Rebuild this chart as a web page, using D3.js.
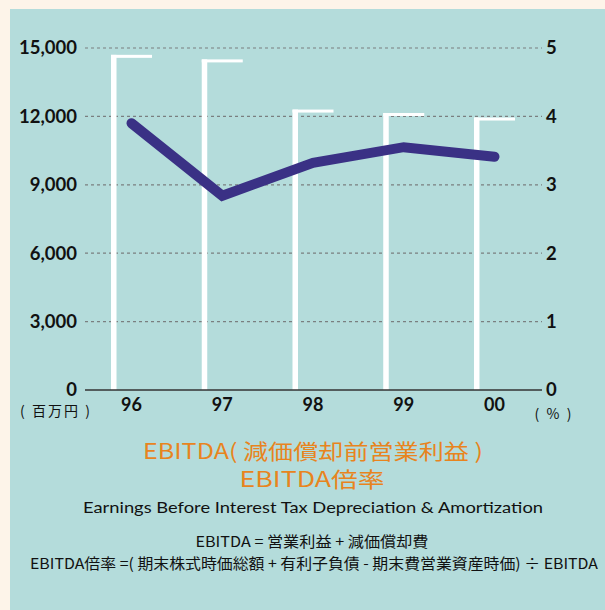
<!DOCTYPE html>
<html>
<head>
<meta charset="utf-8">
<script src="https://cdn.jsdelivr.net/npm/d3@7"></script>
<style>
  html, body { margin: 0; padding: 0; background: #fdf4e9; }
  svg { display: block; }
</style>
</head>
<body>
<svg id="chart" width="605" height="610"></svg>
<script>
// ---- data ----
const years = ["96", "97", "98", "99", "00"];
const ebitda = [14700, 14500, 12300, 12150, 11950];      // 百万円 (bars, left axis)
const ebitdaMultiple = [3.90, 2.84, 3.32, 3.55, 3.41];   // 倍率 (line, right axis)
const leftTicks = [0, 3000, 6000, 9000, 12000, 15000];
const rightTicks = [0, 1, 2, 3, 4, 5];
const leftUnit = "( 百万円 )";
const rightUnit = "( % )";
const titleLines = ["EBITDA( 減価償却前営業利益 )", "EBITDA倍率"];
const subtitle = "Earnings Before Interest Tax Depreciation & Amortization";
const formulas = ["EBITDA = 営業利益 + 減価償却費",
  "EBITDA倍率 =( 期末株式時価総額 + 有利子負債 - 期末費営業資産時価) ÷ EBITDA"];

// ---- setup ----
const svg = d3.select("#chart");
const W = 605, H = 610;
const numFont = "'Lato', 'DejaVu Sans', sans-serif";
const cjkFont = "'Noto Sans CJK JP', 'Noto Sans', sans-serif";

svg.append("rect").attr("width", W).attr("height", H).attr("fill", "#fdf4e9");
svg.append("rect").attr("x", 10).attr("y", 9).attr("width", W - 10).attr("height", H - 9)
  .attr("fill", "#b4dcdb");

const x = d3.scaleBand().domain(years).range([85, 541])
  .paddingInner(0.548).paddingOuter(0.2865);
const yL = d3.scaleLinear().domain([0, 15000]).range([390, 48]);
const yR = d3.scaleLinear().domain([0, 5]).range([390, 48]);

// gridlines
svg.append("g").selectAll("line").data(leftTicks.filter(d => d > 0)).join("line")
  .attr("x1", 85).attr("x2", 542)
  .attr("y1", d => yL(d)).attr("y2", d => yL(d))
  .attr("stroke", "#7a7f80").attr("stroke-width", 1.2).attr("stroke-dasharray", "3,3");

// left axis labels
const leftAxis = d3.axisLeft(yL).tickValues(leftTicks).tickFormat(d3.format(",")).tickSize(0).tickPadding(8);
const gL = svg.append("g").attr("transform", "translate(85,0)").call(leftAxis);
gL.select(".domain").remove();
gL.selectAll("text").attr("font-family", numFont).attr("font-weight", "bold")
  .attr("font-size", 18.5).attr("fill", "#111");

// right axis labels
const rightAxis = d3.axisRight(yR).tickValues(rightTicks).tickFormat(d3.format("d")).tickSize(0).tickPadding(4);
const gR = svg.append("g").attr("transform", "translate(542,0)").call(rightAxis);
gR.select(".domain").remove();
gR.selectAll("text").attr("font-family", numFont).attr("font-weight", "bold")
  .attr("font-size", 18.5).attr("fill", "#111");

// bars (white L-shapes)
const bars = svg.append("g");
bars.selectAll("rect.v").data(years).join("rect").attr("class", "v")
  .attr("x", d => x(d)).attr("width", 5.5)
  .attr("y", (d, i) => yL(ebitda[i])).attr("height", (d, i) => yL(0) - yL(ebitda[i]))
  .attr("fill", "#ffffff");
bars.selectAll("rect.h").data(years).join("rect").attr("class", "h")
  .attr("x", d => x(d)).attr("width", x.bandwidth())
  .attr("y", (d, i) => yL(ebitda[i])).attr("height", 3)
  .attr("fill", "#ffffff");

// x axis
const bottomAxis = d3.axisBottom(x).tickSize(0).tickPadding(8);
const gB = svg.append("g").attr("transform", "translate(0,390)").call(bottomAxis);
gB.select(".domain").attr("stroke", "#333").attr("stroke-width", 1.6).attr("d", "M85,0H542");
gB.selectAll("text").attr("font-family", numFont).attr("font-weight", "bold")
  .attr("font-size", 18).attr("fill", "#111");

// line
const line = d3.line().x((d, i) => x(years[i]) + x.bandwidth() / 2).y(d => yR(d));
svg.append("path").datum(ebitdaMultiple).attr("d", line)
  .attr("fill", "none").attr("stroke", "#3a3185").attr("stroke-width", 10)
  .attr("stroke-linecap", "round").attr("stroke-linejoin", "miter");

// unit labels
svg.append("text").attr("x", 55).attr("y", 416).attr("text-anchor", "middle")
  .attr("font-family", cjkFont).attr("font-size", 14).attr("fill", "#111")
  .attr("textLength", 70).attr("lengthAdjust", "spacing").text(leftUnit);
svg.append("text").attr("x", 553).attr("y", 419).attr("text-anchor", "middle")
  .attr("font-family", cjkFont).attr("font-size", 14).attr("fill", "#111")
  .attr("textLength", 37).attr("lengthAdjust", "spacing").text(rightUnit);

// titles
svg.append("text").attr("x", 313).attr("y", 459).attr("text-anchor", "middle")
  .attr("font-family", cjkFont).attr("font-size", 21).attr("fill", "#e8841e")
  .attr("textLength", 340).attr("lengthAdjust", "spacingAndGlyphs").text(titleLines[0]);
svg.append("text").attr("x", 312).attr("y", 487).attr("text-anchor", "middle")
  .attr("font-family", cjkFont).attr("font-size", 21).attr("fill", "#e8841e")
  .attr("textLength", 145).attr("lengthAdjust", "spacingAndGlyphs").text(titleLines[1]);
svg.append("text").attr("x", 313).attr("y", 513).attr("text-anchor", "middle")
  .attr("font-family", "'Lato', sans-serif").attr("font-size", 16).attr("fill", "#111")
  .attr("textLength", 460).attr("lengthAdjust", "spacingAndGlyphs").text(subtitle);
svg.append("text").attr("x", 312).attr("y", 547).attr("text-anchor", "middle")
  .attr("font-family", cjkFont).attr("font-size", 15).attr("fill", "#111")
  .attr("textLength", 233).attr("lengthAdjust", "spacingAndGlyphs").text(formulas[0]);
svg.append("text").attr("x", 314).attr("y", 569).attr("text-anchor", "middle")
  .attr("font-family", cjkFont).attr("font-size", 15).attr("fill", "#111")
  .attr("textLength", 568).attr("lengthAdjust", "spacingAndGlyphs").text(formulas[1]);
</script>
</body>
</html>
